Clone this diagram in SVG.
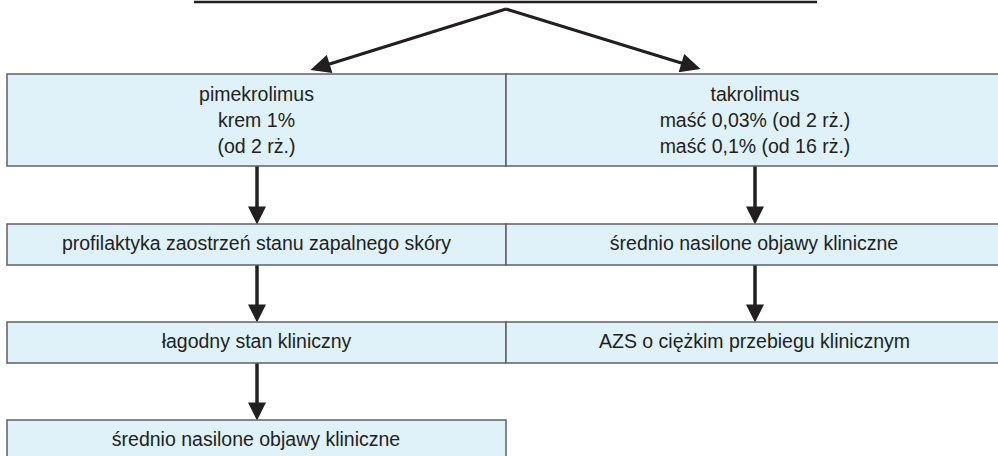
<svg xmlns="http://www.w3.org/2000/svg" width="998" height="456" viewBox="0 0 998 456">
<style>
.box{fill:#dff1f9;stroke:#5f6062;stroke-width:1.5}
.t{font-family:"Liberation Sans",Arial,sans-serif;font-size:19.5px;fill:#231f20;text-anchor:middle}
.c{stroke:#231f20;stroke-width:3.5;fill:none}
.d{stroke:#231f20;stroke-width:3.2;fill:none}
</style>
<defs>
<marker id="ah" markerUnits="userSpaceOnUse" markerWidth="18" markerHeight="18" refX="9" refY="8.5" orient="auto" viewBox="0 0 17 17">
<path d="M0,0 L17,8.5 L0,17 Z" fill="#231f20"/>
</marker>
<marker id="ah2" markerUnits="userSpaceOnUse" markerWidth="21" markerHeight="19" refX="10" refY="9.5" orient="auto" viewBox="0 0 20 19">
<path d="M0,0 L20,9.5 L0,19 Z" fill="#231f20"/>
</marker>
</defs>
<rect width="998" height="456" fill="#ffffff"/>
<line x1="194" y1="2" x2="817" y2="2" stroke="#231f20" stroke-width="2.5"/>
<g id="connectors">
<line class="d" x1="506" y1="9" x2="320" y2="67" marker-end="url(#ah2)"/>
<line class="d" x1="506" y1="9" x2="691" y2="66" marker-end="url(#ah2)"/>
<line class="c" x1="257" y1="166" x2="257" y2="216" marker-end="url(#ah)"/>
<line class="c" x1="257" y1="265" x2="257" y2="314" marker-end="url(#ah)"/>
<line class="c" x1="257" y1="363" x2="257" y2="412" marker-end="url(#ah)"/>
<line class="c" x1="755" y1="166" x2="755" y2="216" marker-end="url(#ah)"/>
<line class="c" x1="755" y1="265" x2="755" y2="314" marker-end="url(#ah)"/>
</g>
<g id="pimekrolimus">
<rect class="box" x="7" y="74" width="499" height="92"/>
<text class="t" x="256.5" y="101">pimekrolimus</text>
<text class="t" x="256.5" y="127">krem 1%</text>
<text class="t" x="256.5" y="153">(od 2 rż.)</text>
</g>
<g id="takrolimus">
<rect class="box" x="506" y="74" width="500" height="92"/>
<text class="t" x="755" y="101">takrolimus</text>
<text class="t" x="755" y="127">maść 0,03% (od 2 rż.)</text>
<text class="t" x="755" y="153">maść 0,1% (od 16 rż.)</text>
</g>
<g id="profilaktyka">
<rect class="box" x="7" y="224" width="499" height="41"/>
<text class="t" x="256.5" y="250">profilaktyka zaostrzeń stanu zapalnego skóry</text>
</g>
<g id="srednio-right">
<rect class="box" x="506" y="224" width="500" height="41"/>
<text class="t" x="754" y="250">średnio nasilone objawy kliniczne</text>
</g>
<g id="lagodny">
<rect class="box" x="7" y="322" width="499" height="41"/>
<text class="t" x="256.5" y="348">łagodny stan kliniczny</text>
</g>
<g id="azs">
<rect class="box" x="506" y="322" width="500" height="41"/>
<text class="t" x="754.5" y="348">AZS o ciężkim przebiegu klinicznym</text>
</g>
<g id="srednio-left">
<rect class="box" x="7" y="420" width="499" height="50"/>
<text class="t" x="256" y="446">średnio nasilone objawy kliniczne</text>
</g>
</svg>
